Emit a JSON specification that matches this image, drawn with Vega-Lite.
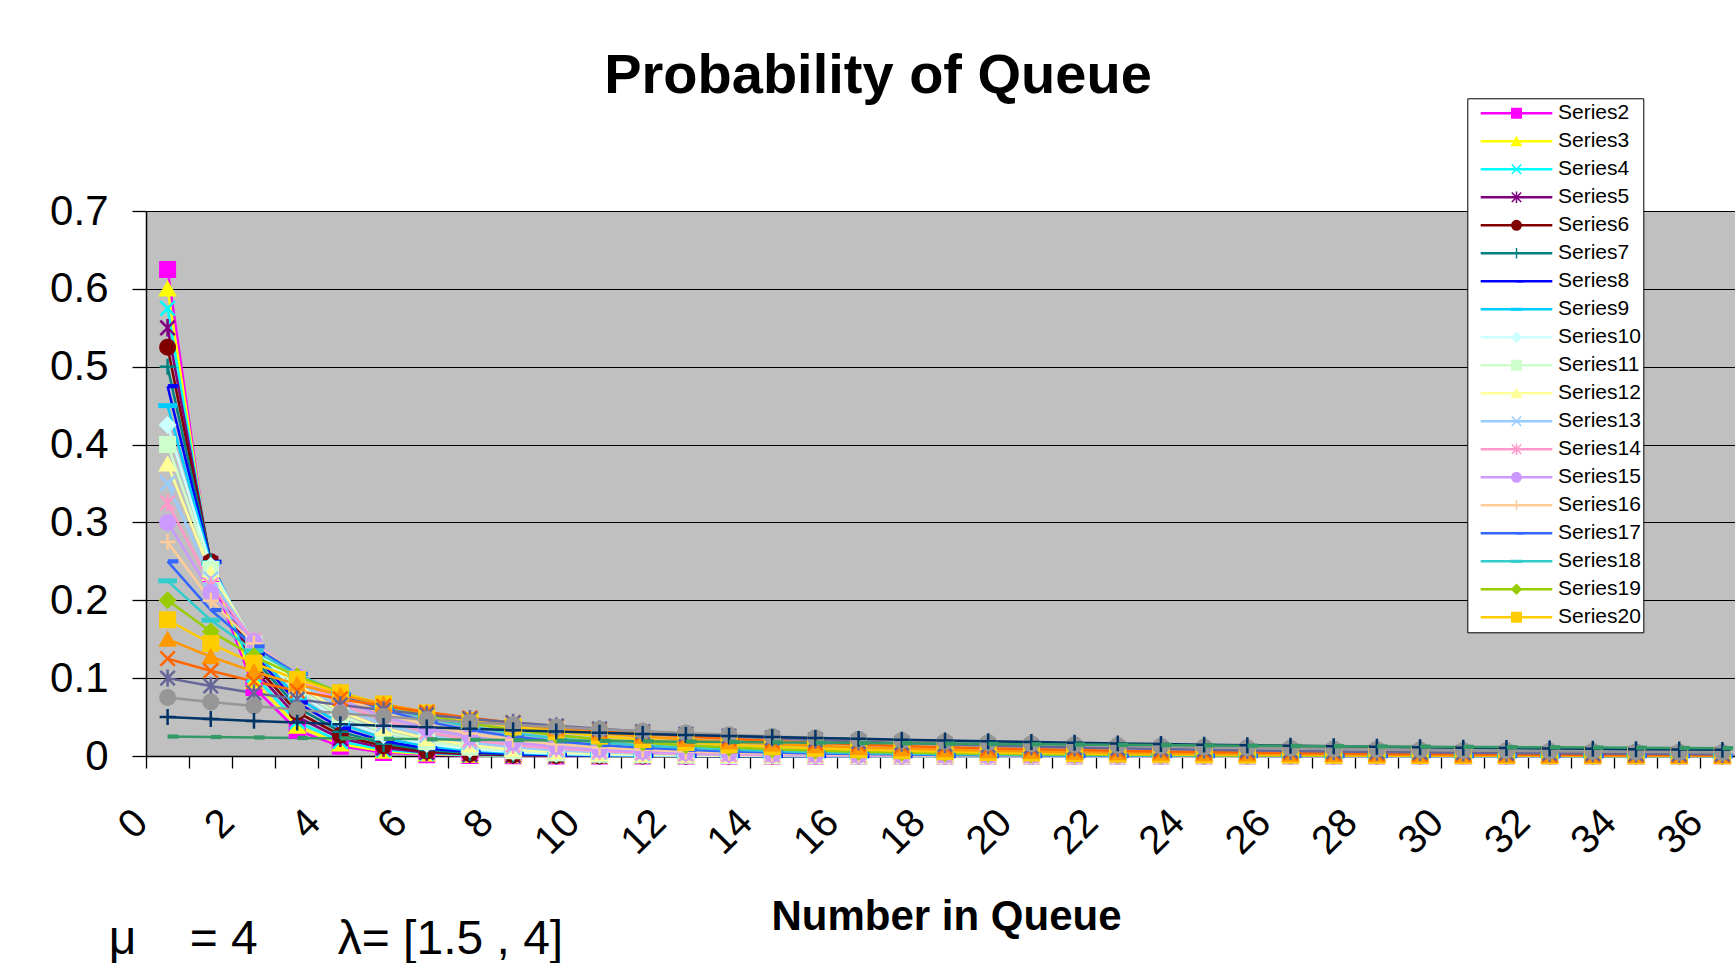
{
"$schema": "https://vega.github.io/schema/vega-lite/v6.json",
"width": 1598, "height": 545,
"autosize": {"type": "none"},
"padding": {"left": 146, "top": 211, "right": -9, "bottom": 207},
"background": "white",
"title": {"text": "Probability of Queue", "fontSize": 56, "font": "Liberation Sans", "fontWeight": "bold", "color": "black", "anchor": "middle", "frame": "group", "dx": -67, "baseline": "alphabetic", "offset": -51},
"config": {"view": {"fill": "#C0C0C0", "stroke": null}, "font": "Liberation Sans"},
"data": {"values": [
{"series":"Series2","n":0,"p":0.625},{"series":"Series2","n":1,"p":0.2344},{"series":"Series2","n":2,"p":0.0879},{"series":"Series2","n":3,"p":0.033},{"series":"Series2","n":4,"p":0.0124},{"series":"Series2","n":5,"p":0.0046},{"series":"Series2","n":6,"p":0.0017},{"series":"Series2","n":7,"p":0.0007},{"series":"Series2","n":8,"p":0.0002},{"series":"Series2","n":9,"p":0.0001},{"series":"Series2","n":10,"p":0},{"series":"Series2","n":11,"p":0},{"series":"Series2","n":12,"p":0},{"series":"Series2","n":13,"p":0},{"series":"Series2","n":14,"p":0},{"series":"Series2","n":15,"p":0},{"series":"Series2","n":16,"p":0},{"series":"Series2","n":17,"p":0},{"series":"Series2","n":18,"p":0},{"series":"Series2","n":19,"p":0},{"series":"Series2","n":20,"p":0},{"series":"Series2","n":21,"p":0},{"series":"Series2","n":22,"p":0},{"series":"Series2","n":23,"p":0},{"series":"Series2","n":24,"p":0},{"series":"Series2","n":25,"p":0},{"series":"Series2","n":26,"p":0},{"series":"Series2","n":27,"p":0},{"series":"Series2","n":28,"p":0},{"series":"Series2","n":29,"p":0},{"series":"Series2","n":30,"p":0},{"series":"Series2","n":31,"p":0},{"series":"Series2","n":32,"p":0},{"series":"Series2","n":33,"p":0},{"series":"Series2","n":34,"p":0},{"series":"Series2","n":35,"p":0},{"series":"Series2","n":36,"p":0},
{"series":"Series3","n":0,"p":0.6},{"series":"Series3","n":1,"p":0.24},{"series":"Series3","n":2,"p":0.096},{"series":"Series3","n":3,"p":0.0384},{"series":"Series3","n":4,"p":0.0154},{"series":"Series3","n":5,"p":0.0061},{"series":"Series3","n":6,"p":0.0025},{"series":"Series3","n":7,"p":0.001},{"series":"Series3","n":8,"p":0.0004},{"series":"Series3","n":9,"p":0.0002},{"series":"Series3","n":10,"p":0.0001},{"series":"Series3","n":11,"p":0},{"series":"Series3","n":12,"p":0},{"series":"Series3","n":13,"p":0},{"series":"Series3","n":14,"p":0},{"series":"Series3","n":15,"p":0},{"series":"Series3","n":16,"p":0},{"series":"Series3","n":17,"p":0},{"series":"Series3","n":18,"p":0},{"series":"Series3","n":19,"p":0},{"series":"Series3","n":20,"p":0},{"series":"Series3","n":21,"p":0},{"series":"Series3","n":22,"p":0},{"series":"Series3","n":23,"p":0},{"series":"Series3","n":24,"p":0},{"series":"Series3","n":25,"p":0},{"series":"Series3","n":26,"p":0},{"series":"Series3","n":27,"p":0},{"series":"Series3","n":28,"p":0},{"series":"Series3","n":29,"p":0},{"series":"Series3","n":30,"p":0},{"series":"Series3","n":31,"p":0},{"series":"Series3","n":32,"p":0},{"series":"Series3","n":33,"p":0},{"series":"Series3","n":34,"p":0},{"series":"Series3","n":35,"p":0},{"series":"Series3","n":36,"p":0},
{"series":"Series4","n":0,"p":0.575},{"series":"Series4","n":1,"p":0.2444},{"series":"Series4","n":2,"p":0.1039},{"series":"Series4","n":3,"p":0.0441},{"series":"Series4","n":4,"p":0.0188},{"series":"Series4","n":5,"p":0.008},{"series":"Series4","n":6,"p":0.0034},{"series":"Series4","n":7,"p":0.0014},{"series":"Series4","n":8,"p":0.0006},{"series":"Series4","n":9,"p":0.0003},{"series":"Series4","n":10,"p":0.0001},{"series":"Series4","n":11,"p":0},{"series":"Series4","n":12,"p":0},{"series":"Series4","n":13,"p":0},{"series":"Series4","n":14,"p":0},{"series":"Series4","n":15,"p":0},{"series":"Series4","n":16,"p":0},{"series":"Series4","n":17,"p":0},{"series":"Series4","n":18,"p":0},{"series":"Series4","n":19,"p":0},{"series":"Series4","n":20,"p":0},{"series":"Series4","n":21,"p":0},{"series":"Series4","n":22,"p":0},{"series":"Series4","n":23,"p":0},{"series":"Series4","n":24,"p":0},{"series":"Series4","n":25,"p":0},{"series":"Series4","n":26,"p":0},{"series":"Series4","n":27,"p":0},{"series":"Series4","n":28,"p":0},{"series":"Series4","n":29,"p":0},{"series":"Series4","n":30,"p":0},{"series":"Series4","n":31,"p":0},{"series":"Series4","n":32,"p":0},{"series":"Series4","n":33,"p":0},{"series":"Series4","n":34,"p":0},{"series":"Series4","n":35,"p":0},{"series":"Series4","n":36,"p":0},
{"series":"Series5","n":0,"p":0.55},{"series":"Series5","n":1,"p":0.2475},{"series":"Series5","n":2,"p":0.1114},{"series":"Series5","n":3,"p":0.0501},{"series":"Series5","n":4,"p":0.0226},{"series":"Series5","n":5,"p":0.0101},{"series":"Series5","n":6,"p":0.0046},{"series":"Series5","n":7,"p":0.0021},{"series":"Series5","n":8,"p":0.0009},{"series":"Series5","n":9,"p":0.0004},{"series":"Series5","n":10,"p":0.0002},{"series":"Series5","n":11,"p":0.0001},{"series":"Series5","n":12,"p":0},{"series":"Series5","n":13,"p":0},{"series":"Series5","n":14,"p":0},{"series":"Series5","n":15,"p":0},{"series":"Series5","n":16,"p":0},{"series":"Series5","n":17,"p":0},{"series":"Series5","n":18,"p":0},{"series":"Series5","n":19,"p":0},{"series":"Series5","n":20,"p":0},{"series":"Series5","n":21,"p":0},{"series":"Series5","n":22,"p":0},{"series":"Series5","n":23,"p":0},{"series":"Series5","n":24,"p":0},{"series":"Series5","n":25,"p":0},{"series":"Series5","n":26,"p":0},{"series":"Series5","n":27,"p":0},{"series":"Series5","n":28,"p":0},{"series":"Series5","n":29,"p":0},{"series":"Series5","n":30,"p":0},{"series":"Series5","n":31,"p":0},{"series":"Series5","n":32,"p":0},{"series":"Series5","n":33,"p":0},{"series":"Series5","n":34,"p":0},{"series":"Series5","n":35,"p":0},{"series":"Series5","n":36,"p":0},
{"series":"Series6","n":0,"p":0.525},{"series":"Series6","n":1,"p":0.2494},{"series":"Series6","n":2,"p":0.1185},{"series":"Series6","n":3,"p":0.0563},{"series":"Series6","n":4,"p":0.0267},{"series":"Series6","n":5,"p":0.0127},{"series":"Series6","n":6,"p":0.006},{"series":"Series6","n":7,"p":0.0029},{"series":"Series6","n":8,"p":0.0014},{"series":"Series6","n":9,"p":0.0006},{"series":"Series6","n":10,"p":0.0003},{"series":"Series6","n":11,"p":0.0001},{"series":"Series6","n":12,"p":0.0001},{"series":"Series6","n":13,"p":0},{"series":"Series6","n":14,"p":0},{"series":"Series6","n":15,"p":0},{"series":"Series6","n":16,"p":0},{"series":"Series6","n":17,"p":0},{"series":"Series6","n":18,"p":0},{"series":"Series6","n":19,"p":0},{"series":"Series6","n":20,"p":0},{"series":"Series6","n":21,"p":0},{"series":"Series6","n":22,"p":0},{"series":"Series6","n":23,"p":0},{"series":"Series6","n":24,"p":0},{"series":"Series6","n":25,"p":0},{"series":"Series6","n":26,"p":0},{"series":"Series6","n":27,"p":0},{"series":"Series6","n":28,"p":0},{"series":"Series6","n":29,"p":0},{"series":"Series6","n":30,"p":0},{"series":"Series6","n":31,"p":0},{"series":"Series6","n":32,"p":0},{"series":"Series6","n":33,"p":0},{"series":"Series6","n":34,"p":0},{"series":"Series6","n":35,"p":0},{"series":"Series6","n":36,"p":0},
{"series":"Series7","n":0,"p":0.5},{"series":"Series7","n":1,"p":0.25},{"series":"Series7","n":2,"p":0.125},{"series":"Series7","n":3,"p":0.0625},{"series":"Series7","n":4,"p":0.0313},{"series":"Series7","n":5,"p":0.0156},{"series":"Series7","n":6,"p":0.0078},{"series":"Series7","n":7,"p":0.0039},{"series":"Series7","n":8,"p":0.002},{"series":"Series7","n":9,"p":0.001},{"series":"Series7","n":10,"p":0.0005},{"series":"Series7","n":11,"p":0.0002},{"series":"Series7","n":12,"p":0.0001},{"series":"Series7","n":13,"p":0.0001},{"series":"Series7","n":14,"p":0},{"series":"Series7","n":15,"p":0},{"series":"Series7","n":16,"p":0},{"series":"Series7","n":17,"p":0},{"series":"Series7","n":18,"p":0},{"series":"Series7","n":19,"p":0},{"series":"Series7","n":20,"p":0},{"series":"Series7","n":21,"p":0},{"series":"Series7","n":22,"p":0},{"series":"Series7","n":23,"p":0},{"series":"Series7","n":24,"p":0},{"series":"Series7","n":25,"p":0},{"series":"Series7","n":26,"p":0},{"series":"Series7","n":27,"p":0},{"series":"Series7","n":28,"p":0},{"series":"Series7","n":29,"p":0},{"series":"Series7","n":30,"p":0},{"series":"Series7","n":31,"p":0},{"series":"Series7","n":32,"p":0},{"series":"Series7","n":33,"p":0},{"series":"Series7","n":34,"p":0},{"series":"Series7","n":35,"p":0},{"series":"Series7","n":36,"p":0},
{"series":"Series8","n":0,"p":0.475},{"series":"Series8","n":1,"p":0.2494},{"series":"Series8","n":2,"p":0.1309},{"series":"Series8","n":3,"p":0.0687},{"series":"Series8","n":4,"p":0.0361},{"series":"Series8","n":5,"p":0.0189},{"series":"Series8","n":6,"p":0.0099},{"series":"Series8","n":7,"p":0.0052},{"series":"Series8","n":8,"p":0.0027},{"series":"Series8","n":9,"p":0.0014},{"series":"Series8","n":10,"p":0.0008},{"series":"Series8","n":11,"p":0.0004},{"series":"Series8","n":12,"p":0.0002},{"series":"Series8","n":13,"p":0.0001},{"series":"Series8","n":14,"p":0.0001},{"series":"Series8","n":15,"p":0},{"series":"Series8","n":16,"p":0},{"series":"Series8","n":17,"p":0},{"series":"Series8","n":18,"p":0},{"series":"Series8","n":19,"p":0},{"series":"Series8","n":20,"p":0},{"series":"Series8","n":21,"p":0},{"series":"Series8","n":22,"p":0},{"series":"Series8","n":23,"p":0},{"series":"Series8","n":24,"p":0},{"series":"Series8","n":25,"p":0},{"series":"Series8","n":26,"p":0},{"series":"Series8","n":27,"p":0},{"series":"Series8","n":28,"p":0},{"series":"Series8","n":29,"p":0},{"series":"Series8","n":30,"p":0},{"series":"Series8","n":31,"p":0},{"series":"Series8","n":32,"p":0},{"series":"Series8","n":33,"p":0},{"series":"Series8","n":34,"p":0},{"series":"Series8","n":35,"p":0},{"series":"Series8","n":36,"p":0},
{"series":"Series9","n":0,"p":0.45},{"series":"Series9","n":1,"p":0.2475},{"series":"Series9","n":2,"p":0.1361},{"series":"Series9","n":3,"p":0.0749},{"series":"Series9","n":4,"p":0.0412},{"series":"Series9","n":5,"p":0.0226},{"series":"Series9","n":6,"p":0.0125},{"series":"Series9","n":7,"p":0.0069},{"series":"Series9","n":8,"p":0.0038},{"series":"Series9","n":9,"p":0.0021},{"series":"Series9","n":10,"p":0.0011},{"series":"Series9","n":11,"p":0.0006},{"series":"Series9","n":12,"p":0.0003},{"series":"Series9","n":13,"p":0.0002},{"series":"Series9","n":14,"p":0.0001},{"series":"Series9","n":15,"p":0.0001},{"series":"Series9","n":16,"p":0},{"series":"Series9","n":17,"p":0},{"series":"Series9","n":18,"p":0},{"series":"Series9","n":19,"p":0},{"series":"Series9","n":20,"p":0},{"series":"Series9","n":21,"p":0},{"series":"Series9","n":22,"p":0},{"series":"Series9","n":23,"p":0},{"series":"Series9","n":24,"p":0},{"series":"Series9","n":25,"p":0},{"series":"Series9","n":26,"p":0},{"series":"Series9","n":27,"p":0},{"series":"Series9","n":28,"p":0},{"series":"Series9","n":29,"p":0},{"series":"Series9","n":30,"p":0},{"series":"Series9","n":31,"p":0},{"series":"Series9","n":32,"p":0},{"series":"Series9","n":33,"p":0},{"series":"Series9","n":34,"p":0},{"series":"Series9","n":35,"p":0},{"series":"Series9","n":36,"p":0},
{"series":"Series10","n":0,"p":0.425},{"series":"Series10","n":1,"p":0.2444},{"series":"Series10","n":2,"p":0.1405},{"series":"Series10","n":3,"p":0.0808},{"series":"Series10","n":4,"p":0.0465},{"series":"Series10","n":5,"p":0.0267},{"series":"Series10","n":6,"p":0.0154},{"series":"Series10","n":7,"p":0.0088},{"series":"Series10","n":8,"p":0.0051},{"series":"Series10","n":9,"p":0.0029},{"series":"Series10","n":10,"p":0.0017},{"series":"Series10","n":11,"p":0.001},{"series":"Series10","n":12,"p":0.0006},{"series":"Series10","n":13,"p":0.0003},{"series":"Series10","n":14,"p":0.0002},{"series":"Series10","n":15,"p":0.0001},{"series":"Series10","n":16,"p":0.0001},{"series":"Series10","n":17,"p":0},{"series":"Series10","n":18,"p":0},{"series":"Series10","n":19,"p":0},{"series":"Series10","n":20,"p":0},{"series":"Series10","n":21,"p":0},{"series":"Series10","n":22,"p":0},{"series":"Series10","n":23,"p":0},{"series":"Series10","n":24,"p":0},{"series":"Series10","n":25,"p":0},{"series":"Series10","n":26,"p":0},{"series":"Series10","n":27,"p":0},{"series":"Series10","n":28,"p":0},{"series":"Series10","n":29,"p":0},{"series":"Series10","n":30,"p":0},{"series":"Series10","n":31,"p":0},{"series":"Series10","n":32,"p":0},{"series":"Series10","n":33,"p":0},{"series":"Series10","n":34,"p":0},{"series":"Series10","n":35,"p":0},{"series":"Series10","n":36,"p":0},
{"series":"Series11","n":0,"p":0.4},{"series":"Series11","n":1,"p":0.24},{"series":"Series11","n":2,"p":0.144},{"series":"Series11","n":3,"p":0.0864},{"series":"Series11","n":4,"p":0.0518},{"series":"Series11","n":5,"p":0.0311},{"series":"Series11","n":6,"p":0.0187},{"series":"Series11","n":7,"p":0.0112},{"series":"Series11","n":8,"p":0.0067},{"series":"Series11","n":9,"p":0.004},{"series":"Series11","n":10,"p":0.0024},{"series":"Series11","n":11,"p":0.0015},{"series":"Series11","n":12,"p":0.0009},{"series":"Series11","n":13,"p":0.0005},{"series":"Series11","n":14,"p":0.0003},{"series":"Series11","n":15,"p":0.0002},{"series":"Series11","n":16,"p":0.0001},{"series":"Series11","n":17,"p":0.0001},{"series":"Series11","n":18,"p":0},{"series":"Series11","n":19,"p":0},{"series":"Series11","n":20,"p":0},{"series":"Series11","n":21,"p":0},{"series":"Series11","n":22,"p":0},{"series":"Series11","n":23,"p":0},{"series":"Series11","n":24,"p":0},{"series":"Series11","n":25,"p":0},{"series":"Series11","n":26,"p":0},{"series":"Series11","n":27,"p":0},{"series":"Series11","n":28,"p":0},{"series":"Series11","n":29,"p":0},{"series":"Series11","n":30,"p":0},{"series":"Series11","n":31,"p":0},{"series":"Series11","n":32,"p":0},{"series":"Series11","n":33,"p":0},{"series":"Series11","n":34,"p":0},{"series":"Series11","n":35,"p":0},{"series":"Series11","n":36,"p":0},
{"series":"Series12","n":0,"p":0.375},{"series":"Series12","n":1,"p":0.2344},{"series":"Series12","n":2,"p":0.1465},{"series":"Series12","n":3,"p":0.0916},{"series":"Series12","n":4,"p":0.0572},{"series":"Series12","n":5,"p":0.0358},{"series":"Series12","n":6,"p":0.0224},{"series":"Series12","n":7,"p":0.014},{"series":"Series12","n":8,"p":0.0087},{"series":"Series12","n":9,"p":0.0055},{"series":"Series12","n":10,"p":0.0034},{"series":"Series12","n":11,"p":0.0021},{"series":"Series12","n":12,"p":0.0013},{"series":"Series12","n":13,"p":0.0008},{"series":"Series12","n":14,"p":0.0005},{"series":"Series12","n":15,"p":0.0003},{"series":"Series12","n":16,"p":0.0002},{"series":"Series12","n":17,"p":0.0001},{"series":"Series12","n":18,"p":0.0001},{"series":"Series12","n":19,"p":0},{"series":"Series12","n":20,"p":0},{"series":"Series12","n":21,"p":0},{"series":"Series12","n":22,"p":0},{"series":"Series12","n":23,"p":0},{"series":"Series12","n":24,"p":0},{"series":"Series12","n":25,"p":0},{"series":"Series12","n":26,"p":0},{"series":"Series12","n":27,"p":0},{"series":"Series12","n":28,"p":0},{"series":"Series12","n":29,"p":0},{"series":"Series12","n":30,"p":0},{"series":"Series12","n":31,"p":0},{"series":"Series12","n":32,"p":0},{"series":"Series12","n":33,"p":0},{"series":"Series12","n":34,"p":0},{"series":"Series12","n":35,"p":0},{"series":"Series12","n":36,"p":0},
{"series":"Series13","n":0,"p":0.35},{"series":"Series13","n":1,"p":0.2275},{"series":"Series13","n":2,"p":0.1479},{"series":"Series13","n":3,"p":0.0961},{"series":"Series13","n":4,"p":0.0625},{"series":"Series13","n":5,"p":0.0406},{"series":"Series13","n":6,"p":0.0264},{"series":"Series13","n":7,"p":0.0172},{"series":"Series13","n":8,"p":0.0112},{"series":"Series13","n":9,"p":0.0072},{"series":"Series13","n":10,"p":0.0047},{"series":"Series13","n":11,"p":0.0031},{"series":"Series13","n":12,"p":0.002},{"series":"Series13","n":13,"p":0.0013},{"series":"Series13","n":14,"p":0.0008},{"series":"Series13","n":15,"p":0.0005},{"series":"Series13","n":16,"p":0.0004},{"series":"Series13","n":17,"p":0.0002},{"series":"Series13","n":18,"p":0.0002},{"series":"Series13","n":19,"p":0.0001},{"series":"Series13","n":20,"p":0.0001},{"series":"Series13","n":21,"p":0},{"series":"Series13","n":22,"p":0},{"series":"Series13","n":23,"p":0},{"series":"Series13","n":24,"p":0},{"series":"Series13","n":25,"p":0},{"series":"Series13","n":26,"p":0},{"series":"Series13","n":27,"p":0},{"series":"Series13","n":28,"p":0},{"series":"Series13","n":29,"p":0},{"series":"Series13","n":30,"p":0},{"series":"Series13","n":31,"p":0},{"series":"Series13","n":32,"p":0},{"series":"Series13","n":33,"p":0},{"series":"Series13","n":34,"p":0},{"series":"Series13","n":35,"p":0},{"series":"Series13","n":36,"p":0},
{"series":"Series14","n":0,"p":0.325},{"series":"Series14","n":1,"p":0.2194},{"series":"Series14","n":2,"p":0.1481},{"series":"Series14","n":3,"p":0.1},{"series":"Series14","n":4,"p":0.0675},{"series":"Series14","n":5,"p":0.0455},{"series":"Series14","n":6,"p":0.0307},{"series":"Series14","n":7,"p":0.0207},{"series":"Series14","n":8,"p":0.014},{"series":"Series14","n":9,"p":0.0095},{"series":"Series14","n":10,"p":0.0064},{"series":"Series14","n":11,"p":0.0043},{"series":"Series14","n":12,"p":0.0029},{"series":"Series14","n":13,"p":0.002},{"series":"Series14","n":14,"p":0.0013},{"series":"Series14","n":15,"p":0.0009},{"series":"Series14","n":16,"p":0.0006},{"series":"Series14","n":17,"p":0.0004},{"series":"Series14","n":18,"p":0.0003},{"series":"Series14","n":19,"p":0.0002},{"series":"Series14","n":20,"p":0.0001},{"series":"Series14","n":21,"p":0.0001},{"series":"Series14","n":22,"p":0.0001},{"series":"Series14","n":23,"p":0},{"series":"Series14","n":24,"p":0},{"series":"Series14","n":25,"p":0},{"series":"Series14","n":26,"p":0},{"series":"Series14","n":27,"p":0},{"series":"Series14","n":28,"p":0},{"series":"Series14","n":29,"p":0},{"series":"Series14","n":30,"p":0},{"series":"Series14","n":31,"p":0},{"series":"Series14","n":32,"p":0},{"series":"Series14","n":33,"p":0},{"series":"Series14","n":34,"p":0},{"series":"Series14","n":35,"p":0},{"series":"Series14","n":36,"p":0},
{"series":"Series15","n":0,"p":0.3},{"series":"Series15","n":1,"p":0.21},{"series":"Series15","n":2,"p":0.147},{"series":"Series15","n":3,"p":0.1029},{"series":"Series15","n":4,"p":0.072},{"series":"Series15","n":5,"p":0.0504},{"series":"Series15","n":6,"p":0.0353},{"series":"Series15","n":7,"p":0.0247},{"series":"Series15","n":8,"p":0.0173},{"series":"Series15","n":9,"p":0.0121},{"series":"Series15","n":10,"p":0.0085},{"series":"Series15","n":11,"p":0.0059},{"series":"Series15","n":12,"p":0.0042},{"series":"Series15","n":13,"p":0.0029},{"series":"Series15","n":14,"p":0.002},{"series":"Series15","n":15,"p":0.0014},{"series":"Series15","n":16,"p":0.001},{"series":"Series15","n":17,"p":0.0007},{"series":"Series15","n":18,"p":0.0005},{"series":"Series15","n":19,"p":0.0003},{"series":"Series15","n":20,"p":0.0002},{"series":"Series15","n":21,"p":0.0002},{"series":"Series15","n":22,"p":0.0001},{"series":"Series15","n":23,"p":0.0001},{"series":"Series15","n":24,"p":0.0001},{"series":"Series15","n":25,"p":0},{"series":"Series15","n":26,"p":0},{"series":"Series15","n":27,"p":0},{"series":"Series15","n":28,"p":0},{"series":"Series15","n":29,"p":0},{"series":"Series15","n":30,"p":0},{"series":"Series15","n":31,"p":0},{"series":"Series15","n":32,"p":0},{"series":"Series15","n":33,"p":0},{"series":"Series15","n":34,"p":0},{"series":"Series15","n":35,"p":0},{"series":"Series15","n":36,"p":0},
{"series":"Series16","n":0,"p":0.275},{"series":"Series16","n":1,"p":0.1994},{"series":"Series16","n":2,"p":0.1445},{"series":"Series16","n":3,"p":0.1048},{"series":"Series16","n":4,"p":0.076},{"series":"Series16","n":5,"p":0.0551},{"series":"Series16","n":6,"p":0.0399},{"series":"Series16","n":7,"p":0.029},{"series":"Series16","n":8,"p":0.021},{"series":"Series16","n":9,"p":0.0152},{"series":"Series16","n":10,"p":0.011},{"series":"Series16","n":11,"p":0.008},{"series":"Series16","n":12,"p":0.0058},{"series":"Series16","n":13,"p":0.0042},{"series":"Series16","n":14,"p":0.003},{"series":"Series16","n":15,"p":0.0022},{"series":"Series16","n":16,"p":0.0016},{"series":"Series16","n":17,"p":0.0012},{"series":"Series16","n":18,"p":0.0008},{"series":"Series16","n":19,"p":0.0006},{"series":"Series16","n":20,"p":0.0004},{"series":"Series16","n":21,"p":0.0003},{"series":"Series16","n":22,"p":0.0002},{"series":"Series16","n":23,"p":0.0002},{"series":"Series16","n":24,"p":0.0001},{"series":"Series16","n":25,"p":0.0001},{"series":"Series16","n":26,"p":0.0001},{"series":"Series16","n":27,"p":0},{"series":"Series16","n":28,"p":0},{"series":"Series16","n":29,"p":0},{"series":"Series16","n":30,"p":0},{"series":"Series16","n":31,"p":0},{"series":"Series16","n":32,"p":0},{"series":"Series16","n":33,"p":0},{"series":"Series16","n":34,"p":0},{"series":"Series16","n":35,"p":0},{"series":"Series16","n":36,"p":0},
{"series":"Series17","n":0,"p":0.25},{"series":"Series17","n":1,"p":0.1875},{"series":"Series17","n":2,"p":0.1406},{"series":"Series17","n":3,"p":0.1055},{"series":"Series17","n":4,"p":0.0791},{"series":"Series17","n":5,"p":0.0593},{"series":"Series17","n":6,"p":0.0445},{"series":"Series17","n":7,"p":0.0334},{"series":"Series17","n":8,"p":0.025},{"series":"Series17","n":9,"p":0.0188},{"series":"Series17","n":10,"p":0.0141},{"series":"Series17","n":11,"p":0.0106},{"series":"Series17","n":12,"p":0.0079},{"series":"Series17","n":13,"p":0.0059},{"series":"Series17","n":14,"p":0.0045},{"series":"Series17","n":15,"p":0.0033},{"series":"Series17","n":16,"p":0.0025},{"series":"Series17","n":17,"p":0.0019},{"series":"Series17","n":18,"p":0.0014},{"series":"Series17","n":19,"p":0.0011},{"series":"Series17","n":20,"p":0.0008},{"series":"Series17","n":21,"p":0.0006},{"series":"Series17","n":22,"p":0.0004},{"series":"Series17","n":23,"p":0.0003},{"series":"Series17","n":24,"p":0.0003},{"series":"Series17","n":25,"p":0.0002},{"series":"Series17","n":26,"p":0.0001},{"series":"Series17","n":27,"p":0.0001},{"series":"Series17","n":28,"p":0.0001},{"series":"Series17","n":29,"p":0.0001},{"series":"Series17","n":30,"p":0},{"series":"Series17","n":31,"p":0},{"series":"Series17","n":32,"p":0},{"series":"Series17","n":33,"p":0},{"series":"Series17","n":34,"p":0},{"series":"Series17","n":35,"p":0},{"series":"Series17","n":36,"p":0},
{"series":"Series18","n":0,"p":0.225},{"series":"Series18","n":1,"p":0.1744},{"series":"Series18","n":2,"p":0.1351},{"series":"Series18","n":3,"p":0.1047},{"series":"Series18","n":4,"p":0.0812},{"series":"Series18","n":5,"p":0.0629},{"series":"Series18","n":6,"p":0.0488},{"series":"Series18","n":7,"p":0.0378},{"series":"Series18","n":8,"p":0.0293},{"series":"Series18","n":9,"p":0.0227},{"series":"Series18","n":10,"p":0.0176},{"series":"Series18","n":11,"p":0.0136},{"series":"Series18","n":12,"p":0.0106},{"series":"Series18","n":13,"p":0.0082},{"series":"Series18","n":14,"p":0.0063},{"series":"Series18","n":15,"p":0.0049},{"series":"Series18","n":16,"p":0.0038},{"series":"Series18","n":17,"p":0.003},{"series":"Series18","n":18,"p":0.0023},{"series":"Series18","n":19,"p":0.0018},{"series":"Series18","n":20,"p":0.0014},{"series":"Series18","n":21,"p":0.0011},{"series":"Series18","n":22,"p":0.0008},{"series":"Series18","n":23,"p":0.0006},{"series":"Series18","n":24,"p":0.0005},{"series":"Series18","n":25,"p":0.0004},{"series":"Series18","n":26,"p":0.0003},{"series":"Series18","n":27,"p":0.0002},{"series":"Series18","n":28,"p":0.0002},{"series":"Series18","n":29,"p":0.0001},{"series":"Series18","n":30,"p":0.0001},{"series":"Series18","n":31,"p":0.0001},{"series":"Series18","n":32,"p":0.0001},{"series":"Series18","n":33,"p":0},{"series":"Series18","n":34,"p":0},{"series":"Series18","n":35,"p":0},{"series":"Series18","n":36,"p":0},
{"series":"Series19","n":0,"p":0.2},{"series":"Series19","n":1,"p":0.16},{"series":"Series19","n":2,"p":0.128},{"series":"Series19","n":3,"p":0.1024},{"series":"Series19","n":4,"p":0.0819},{"series":"Series19","n":5,"p":0.0655},{"series":"Series19","n":6,"p":0.0524},{"series":"Series19","n":7,"p":0.0419},{"series":"Series19","n":8,"p":0.0336},{"series":"Series19","n":9,"p":0.0268},{"series":"Series19","n":10,"p":0.0215},{"series":"Series19","n":11,"p":0.0172},{"series":"Series19","n":12,"p":0.0137},{"series":"Series19","n":13,"p":0.011},{"series":"Series19","n":14,"p":0.0088},{"series":"Series19","n":15,"p":0.007},{"series":"Series19","n":16,"p":0.0056},{"series":"Series19","n":17,"p":0.0045},{"series":"Series19","n":18,"p":0.0036},{"series":"Series19","n":19,"p":0.0029},{"series":"Series19","n":20,"p":0.0023},{"series":"Series19","n":21,"p":0.0018},{"series":"Series19","n":22,"p":0.0015},{"series":"Series19","n":23,"p":0.0012},{"series":"Series19","n":24,"p":0.0009},{"series":"Series19","n":25,"p":0.0008},{"series":"Series19","n":26,"p":0.0006},{"series":"Series19","n":27,"p":0.0005},{"series":"Series19","n":28,"p":0.0004},{"series":"Series19","n":29,"p":0.0003},{"series":"Series19","n":30,"p":0.0002},{"series":"Series19","n":31,"p":0.0002},{"series":"Series19","n":32,"p":0.0002},{"series":"Series19","n":33,"p":0.0001},{"series":"Series19","n":34,"p":0.0001},{"series":"Series19","n":35,"p":0.0001},{"series":"Series19","n":36,"p":0.0001},
{"series":"Series20","n":0,"p":0.175},{"series":"Series20","n":1,"p":0.1444},{"series":"Series20","n":2,"p":0.1191},{"series":"Series20","n":3,"p":0.0983},{"series":"Series20","n":4,"p":0.0811},{"series":"Series20","n":5,"p":0.0669},{"series":"Series20","n":6,"p":0.0552},{"series":"Series20","n":7,"p":0.0455},{"series":"Series20","n":8,"p":0.0376},{"series":"Series20","n":9,"p":0.031},{"series":"Series20","n":10,"p":0.0256},{"series":"Series20","n":11,"p":0.0211},{"series":"Series20","n":12,"p":0.0174},{"series":"Series20","n":13,"p":0.0144},{"series":"Series20","n":14,"p":0.0118},{"series":"Series20","n":15,"p":0.0098},{"series":"Series20","n":16,"p":0.0081},{"series":"Series20","n":17,"p":0.0066},{"series":"Series20","n":18,"p":0.0055},{"series":"Series20","n":19,"p":0.0045},{"series":"Series20","n":20,"p":0.0037},{"series":"Series20","n":21,"p":0.0031},{"series":"Series20","n":22,"p":0.0025},{"series":"Series20","n":23,"p":0.0021},{"series":"Series20","n":24,"p":0.0017},{"series":"Series20","n":25,"p":0.0014},{"series":"Series20","n":26,"p":0.0012},{"series":"Series20","n":27,"p":0.001},{"series":"Series20","n":28,"p":0.0008},{"series":"Series20","n":29,"p":0.0007},{"series":"Series20","n":30,"p":0.0005},{"series":"Series20","n":31,"p":0.0005},{"series":"Series20","n":32,"p":0.0004},{"series":"Series20","n":33,"p":0.0003},{"series":"Series20","n":34,"p":0.0003},{"series":"Series20","n":35,"p":0.0002},{"series":"Series20","n":36,"p":0.0002},
{"series":"Series21","n":0,"p":0.15},{"series":"Series21","n":1,"p":0.1275},{"series":"Series21","n":2,"p":0.1084},{"series":"Series21","n":3,"p":0.0921},{"series":"Series21","n":4,"p":0.0783},{"series":"Series21","n":5,"p":0.0666},{"series":"Series21","n":6,"p":0.0566},{"series":"Series21","n":7,"p":0.0481},{"series":"Series21","n":8,"p":0.0409},{"series":"Series21","n":9,"p":0.0347},{"series":"Series21","n":10,"p":0.0295},{"series":"Series21","n":11,"p":0.0251},{"series":"Series21","n":12,"p":0.0213},{"series":"Series21","n":13,"p":0.0181},{"series":"Series21","n":14,"p":0.0154},{"series":"Series21","n":15,"p":0.0131},{"series":"Series21","n":16,"p":0.0111},{"series":"Series21","n":17,"p":0.0095},{"series":"Series21","n":18,"p":0.008},{"series":"Series21","n":19,"p":0.0068},{"series":"Series21","n":20,"p":0.0058},{"series":"Series21","n":21,"p":0.0049},{"series":"Series21","n":22,"p":0.0042},{"series":"Series21","n":23,"p":0.0036},{"series":"Series21","n":24,"p":0.003},{"series":"Series21","n":25,"p":0.0026},{"series":"Series21","n":26,"p":0.0022},{"series":"Series21","n":27,"p":0.0019},{"series":"Series21","n":28,"p":0.0016},{"series":"Series21","n":29,"p":0.0013},{"series":"Series21","n":30,"p":0.0011},{"series":"Series21","n":31,"p":0.001},{"series":"Series21","n":32,"p":0.0008},{"series":"Series21","n":33,"p":0.0007},{"series":"Series21","n":34,"p":0.0006},{"series":"Series21","n":35,"p":0.0005},{"series":"Series21","n":36,"p":0.0004},
{"series":"Series22","n":0,"p":0.125},{"series":"Series22","n":1,"p":0.1094},{"series":"Series22","n":2,"p":0.0957},{"series":"Series22","n":3,"p":0.0837},{"series":"Series22","n":4,"p":0.0733},{"series":"Series22","n":5,"p":0.0641},{"series":"Series22","n":6,"p":0.0561},{"series":"Series22","n":7,"p":0.0491},{"series":"Series22","n":8,"p":0.043},{"series":"Series22","n":9,"p":0.0376},{"series":"Series22","n":10,"p":0.0329},{"series":"Series22","n":11,"p":0.0288},{"series":"Series22","n":12,"p":0.0252},{"series":"Series22","n":13,"p":0.022},{"series":"Series22","n":14,"p":0.0193},{"series":"Series22","n":15,"p":0.0169},{"series":"Series22","n":16,"p":0.0148},{"series":"Series22","n":17,"p":0.0129},{"series":"Series22","n":18,"p":0.0113},{"series":"Series22","n":19,"p":0.0099},{"series":"Series22","n":20,"p":0.0087},{"series":"Series22","n":21,"p":0.0076},{"series":"Series22","n":22,"p":0.0066},{"series":"Series22","n":23,"p":0.0058},{"series":"Series22","n":24,"p":0.0051},{"series":"Series22","n":25,"p":0.0044},{"series":"Series22","n":26,"p":0.0039},{"series":"Series22","n":27,"p":0.0034},{"series":"Series22","n":28,"p":0.003},{"series":"Series22","n":29,"p":0.0026},{"series":"Series22","n":30,"p":0.0023},{"series":"Series22","n":31,"p":0.002},{"series":"Series22","n":32,"p":0.0017},{"series":"Series22","n":33,"p":0.0015},{"series":"Series22","n":34,"p":0.0013},{"series":"Series22","n":35,"p":0.0012},{"series":"Series22","n":36,"p":0.001},
{"series":"Series23","n":0,"p":0.1},{"series":"Series23","n":1,"p":0.09},{"series":"Series23","n":2,"p":0.081},{"series":"Series23","n":3,"p":0.0729},{"series":"Series23","n":4,"p":0.0656},{"series":"Series23","n":5,"p":0.059},{"series":"Series23","n":6,"p":0.0531},{"series":"Series23","n":7,"p":0.0478},{"series":"Series23","n":8,"p":0.043},{"series":"Series23","n":9,"p":0.0387},{"series":"Series23","n":10,"p":0.0349},{"series":"Series23","n":11,"p":0.0314},{"series":"Series23","n":12,"p":0.0282},{"series":"Series23","n":13,"p":0.0254},{"series":"Series23","n":14,"p":0.0229},{"series":"Series23","n":15,"p":0.0206},{"series":"Series23","n":16,"p":0.0185},{"series":"Series23","n":17,"p":0.0167},{"series":"Series23","n":18,"p":0.015},{"series":"Series23","n":19,"p":0.0135},{"series":"Series23","n":20,"p":0.0122},{"series":"Series23","n":21,"p":0.0109},{"series":"Series23","n":22,"p":0.0098},{"series":"Series23","n":23,"p":0.0089},{"series":"Series23","n":24,"p":0.008},{"series":"Series23","n":25,"p":0.0072},{"series":"Series23","n":26,"p":0.0065},{"series":"Series23","n":27,"p":0.0058},{"series":"Series23","n":28,"p":0.0052},{"series":"Series23","n":29,"p":0.0047},{"series":"Series23","n":30,"p":0.0042},{"series":"Series23","n":31,"p":0.0038},{"series":"Series23","n":32,"p":0.0034},{"series":"Series23","n":33,"p":0.0031},{"series":"Series23","n":34,"p":0.0028},{"series":"Series23","n":35,"p":0.0025},{"series":"Series23","n":36,"p":0.0023},
{"series":"Series24","n":0,"p":0.075},{"series":"Series24","n":1,"p":0.0694},{"series":"Series24","n":2,"p":0.0642},{"series":"Series24","n":3,"p":0.0594},{"series":"Series24","n":4,"p":0.0549},{"series":"Series24","n":5,"p":0.0508},{"series":"Series24","n":6,"p":0.047},{"series":"Series24","n":7,"p":0.0435},{"series":"Series24","n":8,"p":0.0402},{"series":"Series24","n":9,"p":0.0372},{"series":"Series24","n":10,"p":0.0344},{"series":"Series24","n":11,"p":0.0318},{"series":"Series24","n":12,"p":0.0294},{"series":"Series24","n":13,"p":0.0272},{"series":"Series24","n":14,"p":0.0252},{"series":"Series24","n":15,"p":0.0233},{"series":"Series24","n":16,"p":0.0215},{"series":"Series24","n":17,"p":0.0199},{"series":"Series24","n":18,"p":0.0184},{"series":"Series24","n":19,"p":0.0171},{"series":"Series24","n":20,"p":0.0158},{"series":"Series24","n":21,"p":0.0146},{"series":"Series24","n":22,"p":0.0135},{"series":"Series24","n":23,"p":0.0125},{"series":"Series24","n":24,"p":0.0115},{"series":"Series24","n":25,"p":0.0107},{"series":"Series24","n":26,"p":0.0099},{"series":"Series24","n":27,"p":0.0091},{"series":"Series24","n":28,"p":0.0085},{"series":"Series24","n":29,"p":0.0078},{"series":"Series24","n":30,"p":0.0072},{"series":"Series24","n":31,"p":0.0067},{"series":"Series24","n":32,"p":0.0062},{"series":"Series24","n":33,"p":0.0057},{"series":"Series24","n":34,"p":0.0053},{"series":"Series24","n":35,"p":0.0049},{"series":"Series24","n":36,"p":0.0045},
{"series":"Series25","n":0,"p":0.05},{"series":"Series25","n":1,"p":0.0475},{"series":"Series25","n":2,"p":0.0451},{"series":"Series25","n":3,"p":0.0429},{"series":"Series25","n":4,"p":0.0407},{"series":"Series25","n":5,"p":0.0387},{"series":"Series25","n":6,"p":0.0368},{"series":"Series25","n":7,"p":0.0349},{"series":"Series25","n":8,"p":0.0332},{"series":"Series25","n":9,"p":0.0315},{"series":"Series25","n":10,"p":0.0299},{"series":"Series25","n":11,"p":0.0284},{"series":"Series25","n":12,"p":0.027},{"series":"Series25","n":13,"p":0.0257},{"series":"Series25","n":14,"p":0.0244},{"series":"Series25","n":15,"p":0.0232},{"series":"Series25","n":16,"p":0.022},{"series":"Series25","n":17,"p":0.0209},{"series":"Series25","n":18,"p":0.0199},{"series":"Series25","n":19,"p":0.0189},{"series":"Series25","n":20,"p":0.0179},{"series":"Series25","n":21,"p":0.017},{"series":"Series25","n":22,"p":0.0162},{"series":"Series25","n":23,"p":0.0154},{"series":"Series25","n":24,"p":0.0146},{"series":"Series25","n":25,"p":0.0139},{"series":"Series25","n":26,"p":0.0132},{"series":"Series25","n":27,"p":0.0125},{"series":"Series25","n":28,"p":0.0119},{"series":"Series25","n":29,"p":0.0113},{"series":"Series25","n":30,"p":0.0107},{"series":"Series25","n":31,"p":0.0102},{"series":"Series25","n":32,"p":0.0097},{"series":"Series25","n":33,"p":0.0092},{"series":"Series25","n":34,"p":0.0087},{"series":"Series25","n":35,"p":0.0083},{"series":"Series25","n":36,"p":0.0079},
{"series":"Series26","n":0,"p":0.025},{"series":"Series26","n":1,"p":0.0244},{"series":"Series26","n":2,"p":0.0238},{"series":"Series26","n":3,"p":0.0232},{"series":"Series26","n":4,"p":0.0226},{"series":"Series26","n":5,"p":0.022},{"series":"Series26","n":6,"p":0.0215},{"series":"Series26","n":7,"p":0.0209},{"series":"Series26","n":8,"p":0.0204},{"series":"Series26","n":9,"p":0.0199},{"series":"Series26","n":10,"p":0.0194},{"series":"Series26","n":11,"p":0.0189},{"series":"Series26","n":12,"p":0.0184},{"series":"Series26","n":13,"p":0.018},{"series":"Series26","n":14,"p":0.0175},{"series":"Series26","n":15,"p":0.0171},{"series":"Series26","n":16,"p":0.0167},{"series":"Series26","n":17,"p":0.0163},{"series":"Series26","n":18,"p":0.0158},{"series":"Series26","n":19,"p":0.0155},{"series":"Series26","n":20,"p":0.0151},{"series":"Series26","n":21,"p":0.0147},{"series":"Series26","n":22,"p":0.0143},{"series":"Series26","n":23,"p":0.014},{"series":"Series26","n":24,"p":0.0136},{"series":"Series26","n":25,"p":0.0133},{"series":"Series26","n":26,"p":0.0129},{"series":"Series26","n":27,"p":0.0126},{"series":"Series26","n":28,"p":0.0123},{"series":"Series26","n":29,"p":0.012},{"series":"Series26","n":30,"p":0.0117},{"series":"Series26","n":31,"p":0.0114},{"series":"Series26","n":32,"p":0.0111},{"series":"Series26","n":33,"p":0.0108},{"series":"Series26","n":34,"p":0.0106},{"series":"Series26","n":35,"p":0.0103},{"series":"Series26","n":36,"p":0.01}
]},
"layer": [
{
"mark": {"type": "line", "strokeWidth": 2.5},
"encoding": {
"x": {"field": "n", "type": "ordinal", "scale": {"type": "band", "paddingInner": 0, "paddingOuter": 0},
 "axis": {"title": "Number in Queue", "titleFont": "Liberation Sans", "titleFontSize": 42, "titleFontWeight": "bold", "titleColor": "black", "titleBaseline": "alphabetic", "titleY": 173, "titleX": 800,
  "bandPosition": 0, "ticks": true, "tickSize": 12, "tickColor": "black", "tickWidth": 1.3, "domainColor": "black", "domainWidth": 1.5,
  "labelAngle": -45, "labelAlign": "right", "labelBaseline": "middle", "labelFontSize": 40, "labelFont": "Liberation Sans", "labelColor": "black", "labelPadding": 48, "labelOffset": -26,
  "labelExpr": "datum.value % 2 === 0 ? datum.label : ''", "labelOverlap": false, "grid": false}},
"y": {"field": "p", "type": "quantitative", "scale": {"domain": [0, 0.7], "nice": false},
 "axis": {"title": null, "values": [0, 0.1, 0.2, 0.3, 0.4, 0.5, 0.6, 0.7], "format": ".1~f", "labelFontSize": 42, "labelFont": "Liberation Sans", "labelColor": "black", "labelPadding": 24, "tickSize": 14, "tickColor": "black", "tickWidth": 1.3, "domainColor": "black", "domainWidth": 1.5, "grid": true, "gridColor": "black", "gridWidth": 1.2, "gridOpacity": 1}},
"color": {"field": "series", "type": "nominal",
 "scale": {"domain": ["Series2","Series3","Series4","Series5","Series6","Series7","Series8","Series9","Series10","Series11","Series12","Series13","Series14","Series15","Series16","Series17","Series18","Series19","Series20","Series21","Series22","Series23","Series24","Series25","Series26"],
  "range": ["#FF00FF","#FFFF00","#00FFFF","#800080","#800000","#008080","#0000FF","#00CCFF","#CCFFFF","#CCFFCC","#FFFF99","#99CCFF","#FF99CC","#CC99FF","#FFCC99","#3366FF","#33CCCC","#99CC00","#FFCC00","#FF9900","#FF6600","#666699","#969696","#003366","#339966"]},
 "legend": {"title": null, "orient": "none", "legendX": 1321.3, "legendY": -112.7,
  "values": ["Series2","Series3","Series4","Series5","Series6","Series7","Series8","Series9","Series10","Series11","Series12","Series13","Series14","Series15","Series16","Series17","Series18","Series19","Series20"],
  "symbolType": "stroke", "symbolSize": 5130, "symbolStrokeWidth": 2.5, "clipHeight": 26, "rowPadding": 2, "padding": 2, "symbolOffset": 9.7, "labelOffset": 4,
  "labelFontSize": 21, "labelFont": "Liberation Sans", "labelColor": "black", "strokeColor": "black", "fillColor": "white", "zindex": 1}}
}
},
{
"mark": {"type": "point", "filled": false, "opacity": 1, "strokeWidth": 2.5, "size": 210},
"encoding": {
"x": {"field": "n", "type": "ordinal"},
"y": {"field": "p", "type": "quantitative", "scale": {"domain": [0, 0.7], "nice": false}},
"color": {"field": "series", "type": "nominal",
 "scale": {"domain": ["Series2","Series3","Series4","Series5","Series6","Series7","Series8","Series9","Series10","Series11","Series12","Series13","Series14","Series15","Series16","Series17","Series18","Series19","Series20","Series21","Series22","Series23","Series24","Series25","Series26"],
  "range": ["#FF00FF","#FFFF00","#00FFFF","#800080","#800000","#008080","#0000FF","#00CCFF","#CCFFFF","#CCFFCC","#FFFF99","#99CCFF","#FF99CC","#CC99FF","#FFCC99","#3366FF","#33CCCC","#99CC00","#FFCC00","#FF9900","#FF6600","#666699","#969696","#003366","#339966"]},
 "legend": {"title": null, "orient": "none", "legendX": 1321.3, "legendY": -112.7,
  "values": ["Series2","Series3","Series4","Series5","Series6","Series7","Series8","Series9","Series10","Series11","Series12","Series13","Series14","Series15","Series16","Series17","Series18","Series19","Series20"],
  "symbolSize": 90, "symbolStrokeWidth": 1.5, "symbolOpacity": 1, "clipHeight": 26, "rowPadding": 2, "padding": 2, "symbolOffset": 36.7, "labelFontSize": 21, "labelExpr": "''", "zindex": 2}},
"fill": {"field": "series", "type": "nominal",
 "scale": {"domain": ["Series2","Series3","Series4","Series5","Series6","Series7","Series8","Series9","Series10","Series11","Series12","Series13","Series14","Series15","Series16","Series17","Series18","Series19","Series20","Series21","Series22","Series23","Series24","Series25","Series26"],
  "range": ["#FF00FF","#FFFF00","#00FFFF","#800080","#800000","#008080","#0000FF","#00CCFF","#CCFFFF","#CCFFCC","#FFFF99","#99CCFF","#FF99CC","#CC99FF","#FFCC99","#3366FF","#33CCCC","#99CC00","#FFCC00","#FF9900","#FF6600","#666699","#969696","#003366","#339966"]},
 "legend": {"title": null, "orient": "none", "legendX": 1321.3, "legendY": -112.7,
  "values": ["Series2","Series3","Series4","Series5","Series6","Series7","Series8","Series9","Series10","Series11","Series12","Series13","Series14","Series15","Series16","Series17","Series18","Series19","Series20"],
  "symbolSize": 90, "symbolStrokeWidth": 1.5, "symbolOpacity": 1, "clipHeight": 26, "rowPadding": 2, "padding": 2, "symbolOffset": 36.7, "labelFontSize": 21, "labelExpr": "''", "zindex": 2}},
"shape": {"field": "series", "type": "nominal",
 "scale": {"domain": ["Series2","Series3","Series4","Series5","Series6","Series7","Series8","Series9","Series10","Series11","Series12","Series13","Series14","Series15","Series16","Series17","Series18","Series19","Series20","Series21","Series22","Series23","Series24","Series25","Series26"],
  "range": ["square","triangle-up","M-1,-1L1,1M-1,1L1,-1","M-1,-1L1,1M-1,1L1,-1M0,-1.2L0,1.2","circle","M-1.1,0L1.1,0M0,-1.1L0,1.1","M0.2,-0.12L1.3,-0.12L1.3,0.12L0.2,0.12Z","M-1.12,-0.17L1.12,-0.17L1.12,0.17L-1.12,0.17Z","diamond",
   "square","triangle-up","M-1,-1L1,1M-1,1L1,-1","M-1,-1L1,1M-1,1L1,-1M0,-1.2L0,1.2","circle","M-1.1,0L1.1,0M0,-1.1L0,1.1","M0.2,-0.12L1.3,-0.12L1.3,0.12L0.2,0.12Z","M-1.12,-0.17L1.12,-0.17L1.12,0.17L-1.12,0.17Z","diamond",
   "square","triangle-up","M-1,-1L1,1M-1,1L1,-1","M-1,-1L1,1M-1,1L1,-1M0,-1.2L0,1.2","circle","M-1.1,0L1.1,0M0,-1.1L0,1.1","M0.2,-0.12L1.3,-0.12L1.3,0.12L0.2,0.12Z"]},
 "legend": {"title": null, "orient": "none", "legendX": 1321.3, "legendY": -112.7,
  "values": ["Series2","Series3","Series4","Series5","Series6","Series7","Series8","Series9","Series10","Series11","Series12","Series13","Series14","Series15","Series16","Series17","Series18","Series19","Series20"],
  "symbolSize": 90, "symbolStrokeWidth": 1.5, "symbolOpacity": 1, "clipHeight": 26, "rowPadding": 2, "padding": 2, "symbolOffset": 36.7, "labelFontSize": 21, "labelExpr": "''", "zindex": 2}}
}
},
{
"data": {"values": [{"note": "μ\u00a0\u00a0\u00a0\u00a0= 4\u00a0\u00a0\u00a0\u00a0\u00a0\u00a0λ= [1.5 , 4]"}]},
"mark": {"type": "text", "align": "right", "baseline": "alphabetic", "fontSize": 48, "font": "Liberation Sans", "color": "black"},
"encoding": {
"x": {"datum": 9, "type": "ordinal", "bandPosition": 0.66},
"y": {"datum": -0.254, "type": "quantitative", "scale": {"domain": [0, 0.7], "nice": false}},
"text": {"field": "note"}
}
}
],
"resolve": {"scale": {"color": "independent", "fill": "independent", "shape": "independent"}, "legend": {"color": "independent", "fill": "independent", "shape": "independent"}}
}
